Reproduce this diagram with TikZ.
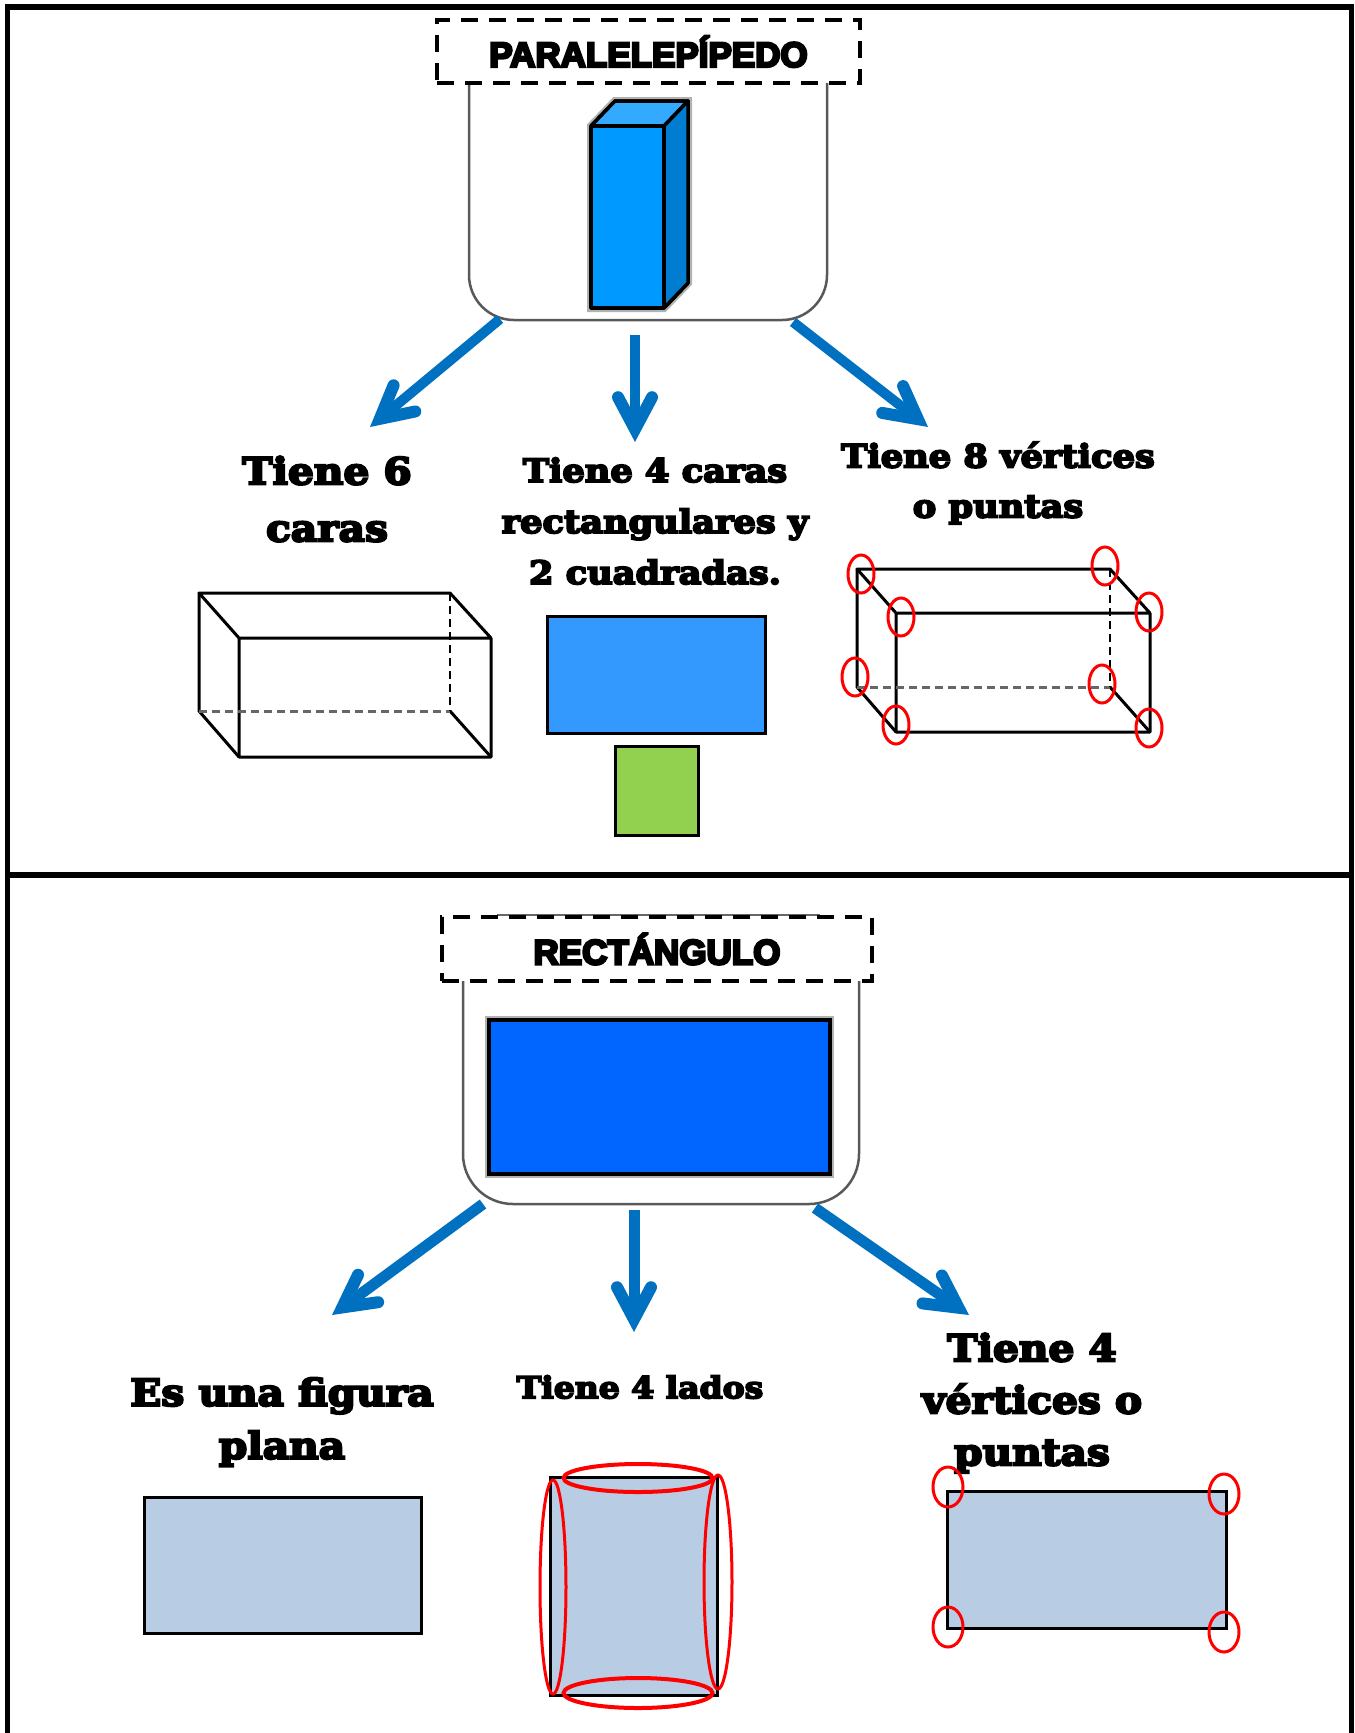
\documentclass[tikz,border=0pt]{standalone}
\usepackage{fontspec}
\usetikzlibrary{arrows.meta,shapes.geometric}
\newfontfamily\headfont[RawFeature={embolden=7}]{Liberation Sans Bold}
\newfontfamily\notefont[FakeStretch=1.1,RawFeature={embolden=6}]{DejaVu Serif Bold}
\definecolor{arrowblue}{HTML}{0070C0}
\definecolor{pale}{HTML}{B8CCE4}
\tikzset{
  headbox/.style={draw, dashed, dash pattern=on 17pt off 11pt, line width=3.5pt, fill=white, inner sep=0, font=\headfont},
  cup/.style={draw=black!65, line width=2.5pt, rounded corners=45pt},
  branch/.style={draw=arrowblue, line width=10pt, -{Straight Barb[length=32pt,width=34pt,line width=12pt,line cap=round,line join=miter]}},
  note/.style={align=center, inner sep=0, font=\notefont\fontsize{#1}{#1}\selectfont},
  glow/.style={preaction={draw=black!30, line width=8pt}},
  plainrect/.style={draw, line width=3pt, inner sep=0},
  edge/.style={line width=3pt},
  hidden/.style={line width=3pt, dashed, dash pattern=on 8pt off 5pt}
}
\begin{document}
\begin{tikzpicture}[x=1pt,y=-1pt]
        \useasboundingbox (0,0) rectangle (1355,1733);
        \fill[white] (0,0) rectangle (1355,1733);

        % frame
        \coordinate (TL) at (7.5,7);
        \coordinate (TR) at (1351.5,7);
        \coordinate (ML) at (7.5,875);
        \coordinate (MR) at (1351.5,875);
        \coordinate (BL) at (7.5,1733);
        \coordinate (BR) at (1351.5,1733);
        \draw[line width=5.5pt] (BL) -- (TL) -- (TR) -- (BR);
        \draw[line width=5.5pt] (ML) -- (MR);

        % paralelepipedo
        \coordinate (CupA) at (469,83);
        \coordinate (CupB) at (469,320);
        \coordinate (CupC) at (827,320);
        \coordinate (CupD) at (827,83);
        \draw[cup] (CupA) -- (CupB) -- (CupC) -- (CupD);
        \node[headbox, minimum width=423, minimum height=63] (Para) at (648.5,51.5) {\fontsize{35}{35}\selectfont PARALELEPÍPEDO};

        \coordinate (Pa) at (591,126);
        \coordinate (Pb) at (664,126);
        \coordinate (Pc) at (664,308);
        \coordinate (Pd) at (591,308);
        \coordinate (Pe) at (615,101);
        \coordinate (Pf) at (688,101);
        \coordinate (Pg) at (688,283);
        \draw[glow, fill=white, line width=3.5pt, line join=round] (Pa) -- (Pe) -- (Pf) -- (Pg) -- (Pc) -- (Pd) -- cycle;
        \draw[line width=3.5pt, line join=round, fill={rgb,255:red,51;green,170;blue,255}] (Pa) -- (Pe) -- (Pf) -- (Pb) -- cycle;
        \draw[line width=3.5pt, line join=round, fill={rgb,255:red,0;green,125;blue,208}] (Pb) -- (Pf) -- (Pg) -- (Pc) -- cycle;
        \draw[line width=3.5pt, line join=round, fill={rgb,255:red,0;green,153;blue,255}] (Pa) -- (Pb) -- (Pc) -- (Pd) -- cycle;

        \coordinate (ParaL) at (500,319);
        \coordinate (ParaM) at (635,335);
        \coordinate (ParaR) at (793,322);
        \coordinate (TipL) at (370,427);
        \coordinate (TipM) at (635,442);
        \coordinate (TipR) at (928,427);
        \draw[branch] (ParaL) -- (TipL);
        \draw[branch] (ParaM) -- (TipM);
        \draw[branch] (ParaR) -- (TipR);

        \node[note=37] (SixFaces) at (327,499) {Tiene 6\\[20pt]caras};
        \node[note=32] (FourFaces) at (655,521) {Tiene 4 caras\\[19pt]rectangulares y\\[19pt]2 cuadradas.};
        \node[note=32] (EightVert) at (998,483) {Tiene 8 vértices\\[18pt]o puntas};

        % caja izquierda
        \coordinate (a1) at (199,593);
        \coordinate (a2) at (450,593);
        \coordinate (a3) at (491,638);
        \coordinate (a4) at (239,638);
        \coordinate (a5) at (199,711);
        \coordinate (a6) at (450,711);
        \coordinate (a7) at (491,757);
        \coordinate (a8) at (239,757);
        \draw[edge, line join=round] (a4) -- (a1) -- (a2) -- (a3) -- (a4) -- (a8) -- (a7) -- (a3);
        \draw[edge] (a1) -- (a5) -- (a8);
        \draw[edge] (a6) -- (a7);
        \draw[hidden, black!60] (a5) -- (a6);
        \draw[hidden, line width=1.5pt] (a2) -- (a6);

        \node[plainrect, fill={rgb,255:red,51;green,153;blue,255}, minimum width=218, minimum height=117] (BlueFace) at (656,674.5) {};
        \node[plainrect, fill={rgb,255:red,146;green,208;blue,80}, minimum width=83, minimum height=89] (GreenFace) at (656.5,790.5) {};

        % caja derecha
        \coordinate (b1) at (857,569);
        \coordinate (b2) at (1110,569);
        \coordinate (b3) at (1150,613);
        \coordinate (b4) at (896,613);
        \coordinate (b5) at (857,687);
        \coordinate (b6) at (1110,687);
        \coordinate (b7) at (1150,732);
        \coordinate (b8) at (896,732);
        \draw[edge, line join=round] (b4) -- (b1) -- (b2) -- (b3) -- (b4) -- (b8) -- (b7) -- (b3);
        \draw[edge] (b1) -- (b5) -- (b8);
        \draw[edge] (b6) -- (b7);
        \draw[hidden, black!60] (b5) -- (b6);
        \draw[hidden, line width=1.5pt] (b2) -- (b6);

        \begin{scope}[every node/.style={ellipse, draw=red, line width=3pt, inner sep=0, minimum width=26, minimum height=38}]
                \node (v1) at (861,574) {};
                \node (v2) at (1105,566) {};
                \node (v3) at (901,617) {};
                \node (v4) at (1149,612) {};
                \node (v5) at (855,677) {};
                \node (v6) at (1102,684) {};
                \node (v7) at (896,725) {};
                \node (v8) at (1149,728) {};
        \end{scope}

        % rectangulo
        \coordinate (CapA) at (463,981);
        \coordinate (CapB) at (463,1204);
        \coordinate (CapC) at (859,1204);
        \coordinate (CapD) at (859,981);
        \coordinate (LidA) at (497,915);
        \coordinate (LidB) at (820,915);
        \draw[black!60, line width=1.5pt] (LidA) -- (LidB);
        \draw[cup, rounded corners=50pt] (CapA) -- (CapB) -- (CapC) -- (CapD);
        \node[headbox, minimum width=430, minimum height=64] (Rect) at (657,949) {\raisebox{-3pt}{\fontsize{35}{35}\selectfont RECTÁNGULO}};
        \node[plainrect, glow, line width=3.5pt, fill={rgb,255:red,0;green,102;blue,255}, minimum width=341, minimum height=154] (BigBlue) at (659.5,1097) {};

        \coordinate (RectL) at (483,1204);
        \coordinate (RectM) at (634,1210);
        \coordinate (RectR) at (815,1208);
        \coordinate (TipLb) at (332,1315);
        \coordinate (TipMb) at (634,1332);
        \coordinate (TipRb) at (969,1315);
        \draw[branch, line width=11pt] (RectL) -- (TipLb);
        \draw[branch, line width=11pt] (RectM) -- (TipMb);
        \draw[branch, line width=11pt] (RectR) -- (TipRb);

        \node[note=37] (Flat) at (282,1422) {Es una figura\\[16pt]plana};
        \node[note=30] (FourSides) at (640,1387) {Tiene 4 lados};
        \node[note=37] (FourVert) at (1032,1403) {Tiene 4\\[15pt]vértices o\\[15pt]puntas};

        \node[plainrect, fill=pale, minimum width=277, minimum height=136] (FlatRect) at (282.5,1565) {};
        \node[plainrect, fill=pale, minimum width=167, minimum height=218] (SideRect) at (633.5,1586) {};
        \node[plainrect, fill=pale, minimum width=279, minimum height=137] (VertRect) at (1087,1559.5) {};

        \begin{scope}[every node/.style={ellipse, draw=red, line width=3pt, inner sep=0}]
                \node[line width=4pt, minimum width=149, minimum height=28] (SideT) at (638,1478) {};
                \node[line width=4pt, minimum width=149, minimum height=30] (SideB) at (638,1693) {};
                \node[minimum width=26, minimum height=214] (SideL) at (553,1587) {};
                \node[minimum width=28, minimum height=214] (SideR) at (718,1582) {};
                \node[minimum width=30, minimum height=40] (w1) at (948,1487) {};
                \node[minimum width=30, minimum height=40] (w2) at (1224,1494) {};
                \node[minimum width=30, minimum height=40] (w3) at (948,1627) {};
                \node[minimum width=30, minimum height=40] (w4) at (1224,1632) {};
        \end{scope}
\end{tikzpicture}
\end{document}
